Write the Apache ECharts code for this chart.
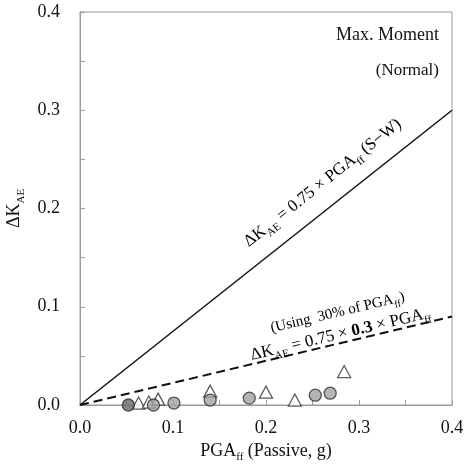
<!DOCTYPE html>
<html>
<head>
<meta charset="utf-8">
<script src="https://cdn.jsdelivr.net/npm/echarts@6/dist/echarts.min.js"></script>
<style>
  html, body { margin: 0; padding: 0; background: #fff; }
  #chartmain { width: 469px; height: 465px; }
</style>
</head>
<body>
<div id="chartmain"></div>
<script>
// measured points (PGA_ff, dK_AE)
var circlePts = [[0.079, 0.000], [0.101, 0.002], [0.140, 0.005], [0.182, 0.007],
                 [0.253, 0.010], [0.269, 0.012]];
var darkCirclePts = [[0.052, 0.000]];
var trianglePts = [[0.063, 0.002], [0.074, 0.003], [0.084, 0.006], [0.140, 0.014],
                   [0.200, 0.013], [0.231, 0.005], [0.284, 0.034]];
// design lines: S-W (0.75 x PGA) and reduced (0.75 x 0.3 x PGA)
var swLine = [[0, 0], [0.4, 0.3]];
var reducedLine = [[0, 0], [0.4, 0.09]];
var axisMin = 0, axisMax = 0.4, axisStep = 0.1;

var serif = "'Liberation Serif', 'Times New Roman', serif";
var subStyle = { fontFamily: serif, fontSize: 11, verticalAlign: 'bottom', lineHeight: 12, padding: [0, 0, -2, 0], color: '#111' };

var myChart = echarts.init(document.getElementById("chartmain"));

var option = {
    animation: false,
    grid: { left: 80, right: 17, top: 12, bottom: 60, show: true, borderColor: '#9a9a9a', borderWidth: 1, outerBoundsMode: 'none' },
    xAxis: {
        type: 'value', min: axisMin, max: axisMax, interval: axisStep,
        name: '{a|PGA}{s|ff}{a| (Passive, g)}',
        nameLocation: 'middle', nameGap: 34,
        nameTextStyle: { rich: { a: { fontFamily: serif, fontSize: 18, lineHeight: 20, color: '#111' }, s: subStyle } },
        axisLine: { lineStyle: { color: '#9a9a9a' } },
        axisTick: { inside: true, length: 5, lineStyle: { color: '#9a9a9a' } },
        minorTick: { show: true, splitNumber: 2, length: 5, lineStyle: { color: '#9a9a9a' } },
        splitLine: { show: false },
        axisLabel: { fontFamily: serif, fontSize: 18, color: '#111', margin: 14, formatter: function (v) { return v.toFixed(1); } }
    },
    yAxis: {
        type: 'value', min: axisMin, max: axisMax, interval: axisStep,
        name: '{a|ΔK}{s|AE}',
        nameLocation: 'middle', nameGap: 28, nameRotate: 90,
        nameTextStyle: { rich: { a: { fontFamily: serif, fontSize: 18, lineHeight: 20, color: '#111' }, s: subStyle } },
        axisLine: { lineStyle: { color: '#9a9a9a' } },
        axisTick: { inside: true, length: 5, lineStyle: { color: '#9a9a9a' } },
        minorTick: { show: true, splitNumber: 2, length: 5, lineStyle: { color: '#9a9a9a' } },
        splitLine: { show: false },
        axisLabel: { fontFamily: serif, fontSize: 18, color: '#111', margin: 20, formatter: function (v) { return v.toFixed(1); } }
    },
    series: [
        { name: 'S-W', type: 'line', data: swLine, symbol: 'none', lineStyle: { color: '#111', width: 1.5 } },
        { name: 'reduced', type: 'line', data: reducedLine, symbol: 'none', lineStyle: { color: '#111', width: 2, type: [9, 5] } },
        { name: 'triangle', type: 'scatter', data: trianglePts, symbol: 'triangle', symbolSize: [13, 12],
          itemStyle: { color: '#fff', borderColor: '#333', borderWidth: 1.3 } },
        { name: 'circle', type: 'scatter', data: circlePts, symbol: 'circle', symbolSize: 12,
          itemStyle: { color: '#a3a3a3', borderColor: '#333', borderWidth: 1.3 } },
        { name: 'circle2', type: 'scatter', data: darkCirclePts, symbol: 'circle', symbolSize: 12,
          itemStyle: { color: '#6a6a6a', borderColor: '#333', borderWidth: 1.5 } }
    ]
};
myChart.setOption(option);

// annotations placed along the lines using the chart's own scales
function lineAngle(pts) {
    var p0 = myChart.convertToPixel({ gridIndex: 0 }, pts[0]);
    var p1 = myChart.convertToPixel({ gridIndex: 0 }, pts[1]);
    return Math.atan2(p0[1] - p1[1], p1[0] - p0[0]);
}
var mainRich = { fontFamily: serif, fontSize: 17, lineHeight: 20, color: '#111' };
var rich = {
    a: mainRich,
    b: { fontFamily: serif, fontSize: 17, lineHeight: 20, fontWeight: 'bold', color: '#111' },
    s: subStyle,
    t: { fontFamily: serif, fontSize: 15, lineHeight: 18, color: '#111' },
    u: { fontFamily: serif, fontSize: 10, verticalAlign: 'bottom', lineHeight: 11, padding: [0, 0, -2, 0], color: '#111' }
};
function note(text, at, ang) {
    var p = myChart.convertToPixel({ gridIndex: 0 }, at);
    return { type: 'text', x: p[0], y: p[1], rotation: ang, z: 10,
             style: { text: text, rich: rich, align: 'center', verticalAlign: 'middle' } };
}
var aSW = lineAngle(swLine), aRed = lineAngle(reducedLine);
myChart.setOption({
    graphic: [
        note('{a|ΔK}{s|AE}{a| = 0.75 × PGA}{s|ff}{a| (S−W)}', [0.261, 0.226], aSW),
        note('{t|(Using  30% of PGA}{u|ff}{t|)}', [0.277, 0.094], aRed),
        note('{a|ΔK}{s|AE}{a| = 0.75 × }{b|0.3}{a| × PGA}{s|ff}', [0.280, 0.072], aRed),
        { type: 'text', right: 30, top: 26, style: { text: 'Max. Moment', fontFamily: serif, fontSize: 18, fill: '#111' } },
        { type: 'text', right: 30, top: 62, style: { text: '(Normal)', fontFamily: serif, fontSize: 17, fill: '#111' } }
    ]
});
</script>
</body>
</html>
